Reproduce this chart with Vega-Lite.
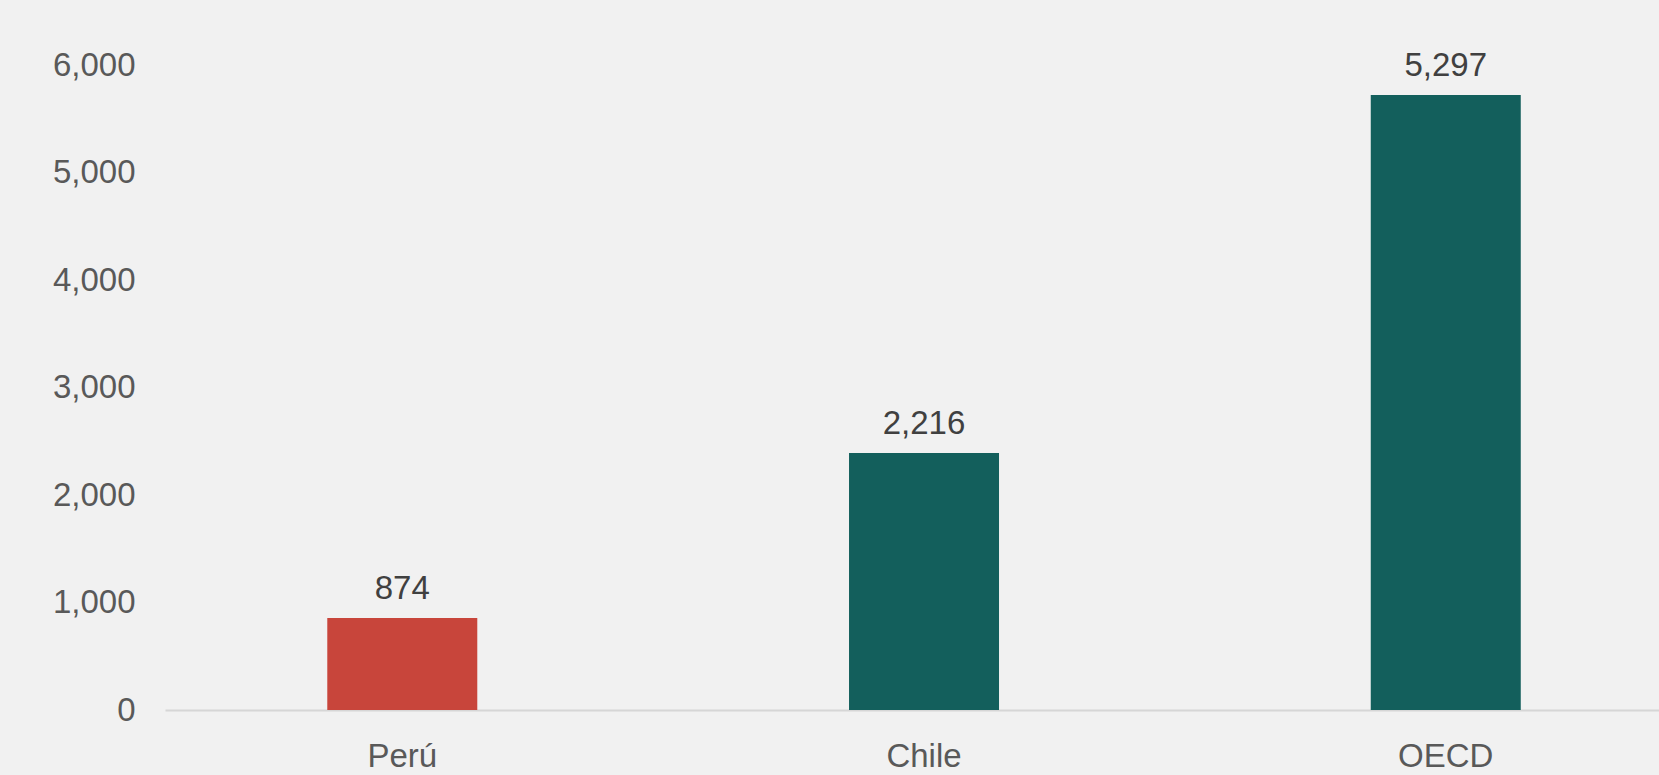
{
  "$schema": "https://vega.github.io/schema/vega-lite/v6.json",
  "autosize": "none",
  "width": 1494,
  "height": 645,
  "padding": {"left": 165, "top": 65, "right": 0, "bottom": 65},
  "background": "#f1f1f1",
  "config": {
    "view": {"stroke": null},
    "font": "Liberation Sans"
  },
  "data": {
    "values": [
      {"country": "Perú", "value": 856, "label": "874", "group": "peru"},
      {"country": "Chile", "value": 2391, "label": "2,216", "group": "other"},
      {"country": "OECD", "value": 5721, "label": "5,297", "group": "other"}
    ]
  },
  "encoding": {
    "x": {
      "field": "country",
      "type": "nominal",
      "sort": null,
      "scale": {"paddingInner": 0.7125, "paddingOuter": 0.288, "align": 0.54},
      "axis": {
        "title": null,
        "labelAngle": 0,
        "ticks": false,
        "tickSize": 0,
        "labelPadding": 30,
        "labelFontSize": 33,
        "labelColor": "#595959",
        "domainColor": "#d6d6d6",
        "domainWidth": 2
      }
    },
    "y": {
      "field": "value",
      "type": "quantitative",
      "scale": {"domain": [0, 6000], "nice": false},
      "axis": {
        "title": null,
        "values": [0, 1000, 2000, 3000, 4000, 5000, 6000],
        "format": ",.0f",
        "grid": false,
        "domain": false,
        "ticks": false,
        "tickSize": 0,
        "labelPadding": 30,
        "labelFontSize": 33,
        "labelColor": "#595959"
      }
    }
  },
  "layer": [
    {
      "mark": {"type": "bar"},
      "encoding": {
        "color": {
          "field": "group",
          "type": "nominal",
          "scale": {"domain": ["peru", "other"], "range": ["#c8453b", "#135f5c"]},
          "legend": null
        }
      }
    },
    {
      "mark": {"type": "text", "baseline": "middle", "dy": -29, "fontSize": 33, "color": "#404040"},
      "encoding": {"text": {"field": "label"}}
    }
  ]
}
